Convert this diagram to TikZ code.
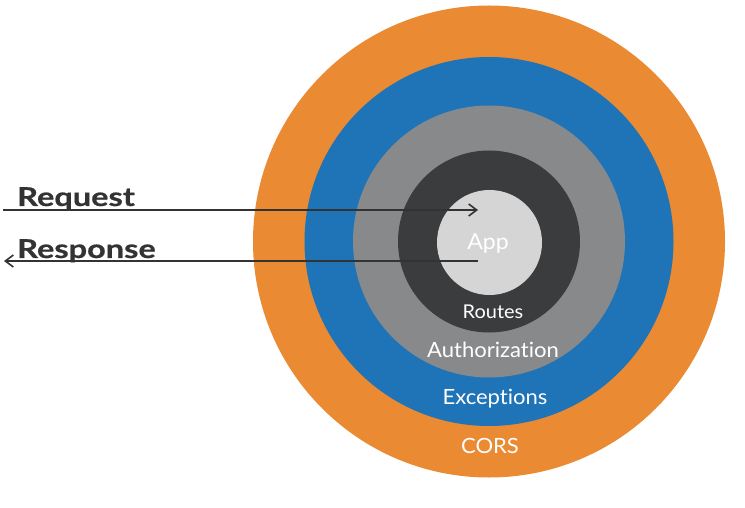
\documentclass[tikz,border=0pt]{standalone}
\usepackage{fontspec}
\setmainfont[Ligatures=NoCommon,FakeStretch=1.05]{Lato}
\newfontfamily\sidefont[Ligatures=NoCommon,FakeStretch=1.25,FakeBold=0.6]{Lato}
\usetikzlibrary{arrows.meta}
\definecolor{corsor}{HTML}{EA8A32}
\definecolor{excblue}{HTML}{1F73B7}
\definecolor{authgray}{HTML}{87898A}
\definecolor{routedark}{HTML}{3B3C3E}
\definecolor{applight}{HTML}{D5D5D5}
\definecolor{ink}{HTML}{333333}
\tikzset{
  ring/.style={circle, inner sep=0pt, draw=none},
  lbl/.style={anchor=base, text=white, inner sep=0pt, font=\fontsize{21}{21}\selectfont},
  side/.style={anchor=base west, text=ink, inner sep=0pt, font=\sidefont\fontsize{26}{26}\selectfont\bfseries},
  flow/.style={draw=ink, line width=1.8pt, -{Straight Barb[length=8pt,width=12pt,line width=1.6pt]}}
}
\begin{document}
\begin{tikzpicture}[x=1pt,y=-1pt]
\useasboundingbox (0,0) rectangle (745,508);
\node[ring, fill=corsor, minimum size=472pt] (cors) at (489,241.5) {};
\node[ring, fill=excblue, minimum size=369pt] (exc) at (489,241.5) {};
\node[ring, fill=authgray, minimum size=272pt] (auth) at (489,241.5) {};
\node[ring, fill=routedark, minimum size=182pt] (routes) at (489,241.5) {};
\node[ring, fill=applight, minimum size=105pt] (app) at (489.5,242.5) {};
\node[lbl, font=\fontsize{22}{22}\selectfont] (applbl) at (488,250) {App};
\node[lbl, font=\fontsize{19}{19}\selectfont] (routeslbl) at (493,318) {Routes};
\node[lbl] (authlbl) at (493,357) {Authorization};
\node[lbl] (exclbl) at (495,404) {Exceptions};
\node[lbl] (corslbl) at (490,453) {CORS};
\node[side] (req) at (17,206) {Request};
\node[side] (resp) at (17,258) {Response};
\coordinate (reqstart) at (3,210);
\coordinate (reqend) at (478,210);
\coordinate (respstart) at (478,261);
\coordinate (respend) at (4,261);
\draw[flow] (reqstart) -- (reqend);
\draw[flow] (respstart) -- (respend);
\end{tikzpicture}
\end{document}
